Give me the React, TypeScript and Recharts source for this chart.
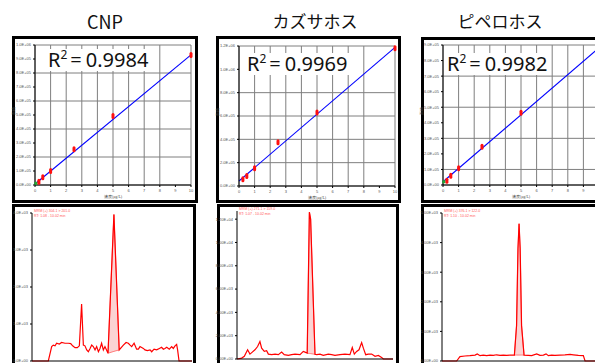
import React from 'react'
import { ComposedChart, Line, Scatter, Area, XAxis, YAxis, CartesianGrid } from 'recharts'

// 検量線 (x: 濃度 µg/L, y: ピーク面積)
const calConc = [0.25, 0.5, 1, 2.5, 5, 10]
const cnpArea = [24000, 55000, 100000, 255000, 493000, 929000]
const kazArea = [58000, 86000, 152000, 374000, 630000, 1180000]
const pipArea = [28000, 60000, 107000, 246000, 465000, 882000]

const fitConc = [0, 10]
const cnpFit = [7000, 929000]
const kazFit = [43000, 1188000]
const pipFit = [21000, 882000]

const blankConc = [0.06]
const cnpBlank = [12000]
const pipBlank = [21000]

const concTicks = [0, 1, 2, 3, 4, 5, 6, 7, 8, 9, 10]
const pipConcTicks = [0, 1, 2, 3, 4, 5, 6, 7, 8, 9]
const cnpAreaTicks = [0, 100000, 200000, 300000, 400000, 500000, 600000, 700000, 800000, 900000, 1000000]
const kazAreaTicks = [0, 200000, 400000, 600000, 800000, 1000000, 1200000]
const pipAreaTicks = [0, 100000, 200000, 300000, 400000, 500000, 600000, 700000, 800000, 900000]

const titles = ['CNP', 'カズサホス', 'ピペロホス']
const r2Labels = ['0.9984', '0.9969', '0.9982']

// クロマトグラム
const cnpTime = [0, 1.02, 1.23, 1.33, 1.44, 1.54, 1.71, 1.85, 2.06, 2.27, 2.42, 2.54, 2.69, 2.83, 2.96, 3.1, 3.21, 3.31, 3.42, 3.52, 3.63, 3.73, 3.83, 3.94, 4.04, 4.15, 4.25, 4.35, 4.46, 4.56, 4.75, 5.12, 5.45, 5.71, 5.88, 6.02, 6.13, 6.23, 6.38, 6.54, 6.65, 6.75, 6.96, 7.06, 7.21, 7.38, 7.48, 7.63, 7.79, 7.96, 8.1, 8.21, 8.31, 8.42, 8.58, 8.73, 8.83, 8.94, 9.04, 9.1, 9.19, 10]
const cnpSignal = [0, 0, 0.39, 0.43, 0.41, 0.48, 0.46, 0.5, 0.48, 0.48, 0.47, 0.41, 0.36, 0.36, 0.41, 1.54, 0.43, 0.41, 0.3, 0.25, 0.34, 0.43, 0.39, 0.3, 0.39, 0.25, 0.34, 0.48, 0.3, 0.39, 0.21, 3.96, 0.3, 0.43, 0.5, 0.48, 0.43, 0.39, 0.48, 0.32, 0.32, 0.39, 0.34, 0.3, 0.28, 0.3, 0.25, 0.32, 0.3, 0.34, 0.37, 0.32, 0.34, 0.37, 0.32, 0.39, 0.34, 0.41, 0.45, 0.3, 0, 0]
const cnpPeakTime = [4.75, 5.12, 5.45]
const cnpPeakBase = [0.21, 0.26, 0.3]
const cnpPeakTop = [0.21, 3.96, 0.3]

const kazTime = [0, 0.3, 0.47, 0.68, 0.83, 0.98, 1.15, 1.32, 1.47, 1.58, 1.75, 1.9, 2.01, 2.22, 2.44, 2.65, 2.86, 3.03, 3.29, 3.5, 3.72, 4.04, 4.25, 4.36, 4.5, 4.64, 4.72, 5.0, 5.11, 5.32, 5.53, 5.85, 6.07, 6.28, 6.6, 6.92, 7.24, 7.39, 7.52, 7.67, 7.82, 7.99, 8.1, 8.25, 8.42, 8.63, 8.85, 9.06, 9.27, 9.38, 10]
const kazSignal = [0, 0.008, 0.023, 0.079, 0.042, 0.059, 0.079, 0.107, 0.15, 0.093, 0.065, 0.071, 0.042, 0.037, 0.042, 0.037, 0.059, 0.037, 0.031, 0.037, 0.042, 0.037, 0.065, 0.059, 0.05, 1.26, 1.2, 0.04, 0.037, 0.042, 0.031, 0.042, 0.037, 0.031, 0.037, 0.042, 0.037, 0.099, 0.042, 0.065, 0.079, 0.141, 0.093, 0.037, 0.042, 0.042, 0.023, 0.031, 0.014, 0, 0]
const kazPeakTime = [4.5, 4.64, 4.72, 5.0]
const kazPeakBase = [0.05, 0.047, 0.046, 0.04]
const kazPeakTop = [0.05, 1.26, 1.2, 0.04]

const pipTime = [0, 0.94, 1.15, 1.47, 1.79, 2.12, 2.26, 2.44, 2.65, 2.86, 3.08, 3.29, 3.5, 3.72, 3.93, 4.15, 4.36, 4.64, 4.78, 4.87, 4.94, 5.01, 5.1, 5.26, 5.53, 5.75, 6.07, 6.28, 6.5, 6.67, 6.82, 7.03, 7.24, 7.56, 7.88, 8.21, 8.42, 8.74, 9.06, 9.17, 10]
const pipSignal = [0, 0, 0.146, 0.169, 0.18, 0.2, 0.24, 0.18, 0.2, 0.18, 0.2, 0.19, 0.21, 0.19, 0.2, 0.19, 0.2, 0.2, 1.2, 3.8, 4.64, 3.8, 1.2, 0.2, 0.19, 0.18, 0.24, 0.19, 0.2, 0.24, 0.18, 0.2, 0.19, 0.2, 0.21, 0.225, 0.21, 0.19, 0.18, 0, 0]
const pipPeakTime = [4.64, 4.78, 4.87, 4.94, 5.01, 5.1, 5.26]
const pipPeakBase = [0.2, 0.2, 0.2, 0.2, 0.2, 0.2, 0.2]
const pipPeakTop = [0.2, 1.2, 3.8, 4.64, 3.8, 1.2, 0.2]

const cnpTimeTicks = [1.02, 2.75, 4.63, 6.5, 8.42]
const kazTimeTicks = [0.56, 2.65, 4.79, 6.92, 9.06]
const pipTimeTicks = [1.2, 3.25, 5.17, 7.13, 9.1]

const cnpSignalTicks = [0, 1, 2, 3, 4]
const cnpSignalLabels = ['0.0E+00', '1.0E+03', '2.0E+03', '3.0E+03', '4.0E+03']
const kazSignalTicks = [0, 0.2, 0.4, 0.6, 0.8, 1.0, 1.2]
const kazSignalLabels = ['0.00E+00', '2.00E+03', '4.00E+03', '6.00E+03', '8.00E+03', '1.00E+04', '1.20E+04']
const pipSignalTicks = [0, 1, 2, 3, 4, 5]
const pipSignalLabels = ['0.00E+00', '1.00E+03', '2.00E+03', '3.00E+03', '4.00E+03', '5.00E+03']

const chromInfo = [
  ['MRM (+) 304.1 > 201.0', 'RT: 1.08 - 10.02 min'],
  ['MRM (+) 271.1 > 159.0', 'RT: 1.07 - 10.02 min'],
  ['MRM (+) 376.1 > 122.0', 'RT: 1.10 - 10.02 min'],
]

const expLabel = (v: number) => {
  if (v === 0) return '0.0E+00'
  const e = Math.floor(Math.log10(v))
  return (v / Math.pow(10, e)).toFixed(1) + 'E+' + String(e).padStart(2, '0')
}

const tickStyle = { fontSize: 4, fill: '#555', fontFamily: 'Arial, sans-serif' }

const RedMark = (props: any) => (
  <rect x={props.cx - 1.5} y={props.cy - 3} width={3} height={6} rx={1.5} fill="#ff1010" />
)
const GreenMark = (props: any) => (
  <rect x={props.cx - 1.5} y={props.cy - 1.5} width={3} height={3} fill="#22aa33" />
)

function CalPanel({ plotLeft, plotTop, conc, area, fit, ticks, xTicks, blank }: any) {
  const plotW = 156
  const plotH = 140
  const points = conc.map((x: number, i: number) => ({ x, y: area[i] }))
  const fitLine = fitConc.map((x, i) => ({ x, y: fit[i] }))
  const blankPts = blank ? blankConc.map((x, i) => ({ x, y: blank[i] })) : []
  const yMax = ticks[ticks.length - 1]
  return (
    <div style={{ position: 'absolute', left: plotLeft - 25, top: plotTop - 5 }}>
      <ComposedChart width={25 + plotW + 5} height={5 + plotH + 15} margin={{ top: 5, right: 5, left: 0, bottom: 0 }}>
        <CartesianGrid stroke="#7f7f7f" strokeWidth={1} />
        <XAxis
          type="number"
          dataKey="x"
          domain={[0, 10]}
          ticks={xTicks}
          height={15}
          tick={tickStyle}
          tickSize={2}
          stroke="#000"
          label={{ value: '濃度(μg/L)', position: 'insideBottom', offset: 2, style: { fontSize: 4, fill: '#444' } }}
        />
        <YAxis
          type="number"
          dataKey="y"
          domain={[0, yMax]}
          ticks={ticks}
          width={25}
          tick={tickStyle}
          tickSize={2}
          stroke="#000"
          tickFormatter={expLabel}
          label={{ value: '面積', angle: -90, position: 'insideLeft', offset: 4, style: { fontSize: 4, fill: '#444' } }}
        />
        <Line data={fitLine} dataKey="y" type="linear" stroke="#0000ff" strokeWidth={1.1} dot={false} isAnimationActive={false} />
        <Scatter data={blankPts} dataKey="y" shape={GreenMark} isAnimationActive={false} />
        <Scatter data={points} dataKey="y" shape={RedMark} isAnimationActive={false} />
      </ComposedChart>
    </div>
  )
}

function ChromPanel({ plotLeft, plotTop, plotW, yMax, time, signal, peakTime, peakBase, peakTop, timeTicks, yTicks, yLabels, info }: any) {
  const plotH = 148
  const trace = time.map((t: number, i: number) => ({ t, v: signal[i] }))
  const peak = peakTime.map((t: number, i: number) => ({ t, range: [peakBase[i], peakTop[i]] }))
  return (
    <div style={{ position: 'absolute', left: plotLeft - 25, top: plotTop - 5 }}>
      <ComposedChart width={25 + plotW + 5} height={5 + plotH + 15} margin={{ top: 5, right: 5, left: 0, bottom: 0 }}>
        <XAxis type="number" dataKey="t" domain={[0, 10]} ticks={timeTicks} height={15} tick={false} tickSize={3} stroke="#000" />
        <YAxis
          type="number"
          domain={[0, yMax]}
          ticks={yTicks}
          width={25}
          tick={tickStyle}
          tickSize={2}
          stroke="#000"
          tickFormatter={(v: number) => yLabels[yTicks.indexOf(v)] ?? ''}
        />
        <Area data={peak} dataKey="range" type="linear" fill="#fbd3d3" fillOpacity={1} stroke="#ff5050" strokeWidth={0.7} isAnimationActive={false} />
        <Line data={trace} dataKey="v" type="linear" stroke="#ff0000" strokeWidth={1.2} dot={false} isAnimationActive={false} />
      </ComposedChart>
      <div style={{ position: 'absolute', left: 27, top: 1, fontSize: 3.5, lineHeight: '5px', color: '#ff5a5a', fontFamily: 'Arial, sans-serif', whiteSpace: 'nowrap' }}>
        <div>{info[0]}</div>
        <div>{info[1]}</div>
      </div>
    </div>
  )
}

const frame = (left: number, top: number, width: number, height: number) => (
  <div style={{ position: 'absolute', left, top, width, height, border: '3px solid #000', boxSizing: 'border-box', background: '#fff' }} />
)

function R2Label({ left, top, value }: { left: number; top: number; value: string }) {
  return (
    <div
      style={{
        position: 'absolute',
        left,
        top,
        background: '#fff',
        padding: '0 3px',
        fontFamily: '"Noto Sans", sans-serif',
        fontSize: 20,
        lineHeight: '22px',
        color: '#111',
        whiteSpace: 'nowrap',
      }}
    >
      R<sup style={{ fontSize: 12, verticalAlign: 'top', lineHeight: '12px' }}>2</sup>
      <span style={{ margin: '0 4px 0 3px' }}>=</span>
      {value}
    </div>
  )
}

export default function App() {
  const titleCenters = [105, 315, 500]
  return (
    <div style={{ position: 'fixed', left: 0, top: 0, width: 595, height: 363, overflow: 'hidden', background: '#fff' }}>
      {titles.map((t, i) => (
        <div
          key={t}
          style={{
            position: 'absolute',
            left: titleCenters[i] - 60,
            width: 120,
            top: 9,
            textAlign: 'center',
            fontFamily: '"Noto Sans CJK JP", "Noto Sans", sans-serif',
            fontSize: i === 0 ? 18 : 17,
            lineHeight: '24px',
            color: '#111',
          }}
        >
          {t}
        </div>
      ))}

      {frame(12, 36, 186, 167)}
      {frame(216, 36, 185, 167)}
      {frame(421, 37, 190, 166)}
      {frame(12, 204, 184, 170)}
      {frame(217, 204, 182, 170)}
      {frame(421, 204, 190, 170)}

      <CalPanel plotLeft={35} plotTop={45} conc={calConc} area={cnpArea} fit={cnpFit} ticks={cnpAreaTicks} xTicks={concTicks} blank={cnpBlank} />
      <CalPanel plotLeft={239} plotTop={46} conc={calConc} area={kazArea} fit={kazFit} ticks={kazAreaTicks} xTicks={concTicks} />
      <CalPanel plotLeft={443} plotTop={45} conc={calConc} area={pipArea} fit={pipFit} ticks={pipAreaTicks} xTicks={pipConcTicks} blank={pipBlank} />

      <R2Label left={45} top={49} value={r2Labels[0]} />
      <R2Label left={244} top={53} value={r2Labels[1]} />
      <R2Label left={444} top={53} value={r2Labels[2]} />

      <ChromPanel
        plotLeft={32} plotTop={213} plotW={160} yMax={4}
        time={cnpTime} signal={cnpSignal}
        peakTime={cnpPeakTime} peakBase={cnpPeakBase} peakTop={cnpPeakTop}
        timeTicks={cnpTimeTicks} yTicks={cnpSignalTicks} yLabels={cnpSignalLabels} info={chromInfo[0]}
      />
      <ChromPanel
        plotLeft={237} plotTop={211} plotW={156} yMax={1.27}
        time={kazTime} signal={kazSignal}
        peakTime={kazPeakTime} peakBase={kazPeakBase} peakTop={kazPeakTop}
        timeTicks={kazTimeTicks} yTicks={kazSignalTicks} yLabels={kazSignalLabels} info={chromInfo[1]}
      />
      <ChromPanel
        plotLeft={442} plotTop={213} plotW={156} yMax={5}
        time={pipTime} signal={pipSignal}
        peakTime={pipPeakTime} peakBase={pipPeakBase} peakTop={pipPeakTop}
        timeTicks={pipTimeTicks} yTicks={pipSignalTicks} yLabels={pipSignalLabels} info={chromInfo[2]}
      />
    </div>
  )
}
